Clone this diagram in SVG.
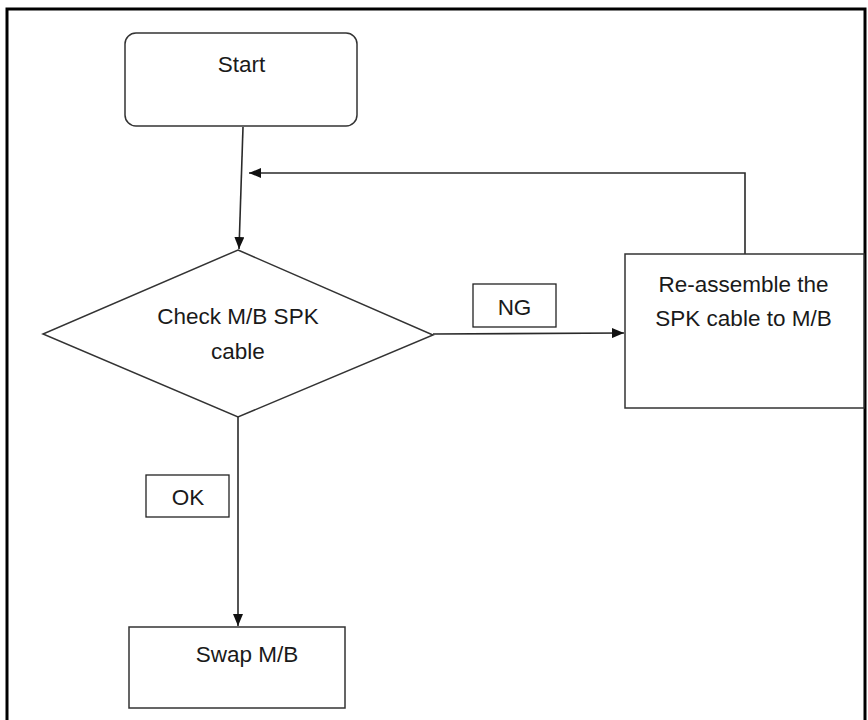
<svg xmlns="http://www.w3.org/2000/svg" width="868" height="720" viewBox="0 0 868 720">
  <style>
    .shape { fill: #ffffff; stroke: #333333; stroke-width: 1.5; }
    .lbl { fill: #ffffff; stroke: #222222; stroke-width: 1.3; }
    .conn { fill: none; stroke: #2a2a2a; stroke-width: 1.6; }
    text { font-family: "Liberation Sans", Arial, sans-serif; font-size: 22.5px; fill: #1a1a1a; text-anchor: middle; }
  </style>
  <defs>
    <marker id="arrow" viewBox="0 0 12 10" refX="12" refY="5" markerWidth="12" markerHeight="10" markerUnits="userSpaceOnUse" orient="auto">
      <path d="M0,0 L12,5 L0,10 Z" fill="#111111"/>
    </marker>
  </defs>
  <rect x="0" y="0" width="868" height="720" fill="#ffffff"/>
  <rect id="frame" x="7" y="9" width="858" height="730" fill="none" stroke="#000000" stroke-width="3"/>

  <g id="connectors">
    <path class="conn" d="M243,127 L239,249" marker-end="url(#arrow)"/>
    <path class="conn" d="M745,254 L745,173 L249,173" marker-end="url(#arrow)"/>
    <path class="conn" d="M433,334 L624,333" marker-end="url(#arrow)"/>
    <path class="conn" d="M238,417 L238,626" marker-end="url(#arrow)"/>
  </g>

  <g id="start">
    <rect class="shape" x="125" y="33" width="232" height="93" rx="11" ry="11"/>
    <text x="241.5" y="72">Start</text>
  </g>

  <g id="check">
    <polygon class="shape" points="238,250 433,335 238,417 43,334"/>
    <text x="238" y="324">Check M/B SPK</text>
    <text x="238" y="359">cable</text>
  </g>

  <g id="ng-label">
    <rect class="lbl" x="473" y="284" width="83" height="43"/>
    <text x="514.5" y="315">NG</text>
  </g>

  <g id="reassemble">
    <rect class="shape" x="625" y="254" width="239" height="154"/>
    <text x="743.5" y="292">Re-assemble the</text>
    <text x="743.5" y="326">SPK cable to M/B</text>
  </g>

  <g id="ok-label">
    <rect class="lbl" x="146" y="475" width="83" height="42"/>
    <text x="188" y="505">OK</text>
  </g>

  <g id="swap">
    <rect class="shape" x="129" y="627" width="216" height="81"/>
    <text x="247" y="662">Swap M/B</text>
  </g>
</svg>
